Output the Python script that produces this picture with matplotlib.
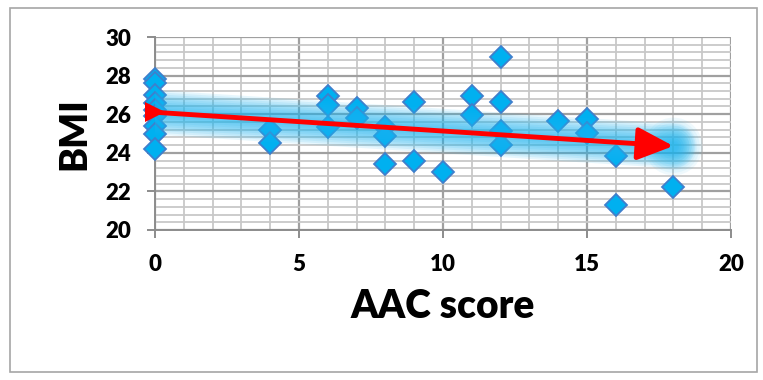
import numpy as np
import matplotlib.pyplot as plt
from matplotlib.patches import Rectangle
from matplotlib.ticker import MultipleLocator

# AAC score vs BMI
aac = [0, 0, 0, 0, 0, 0, 0, 0, 0,
       4, 4,
       6, 6, 6,
       7, 7,
       8, 8, 8,
       9, 9,
       10,
       11, 11,
       12, 12, 12, 12,
       14,
       15, 15,
       16, 16,
       18]
bmi = [27.8, 27.6, 27.0, 26.6, 26.2, 25.9, 25.4, 25.0, 24.2,
       25.2, 24.5,
       26.95, 26.5, 25.35,
       26.3, 25.8,
       25.35, 24.85, 23.4,
       26.65, 23.55,
       23.0,
       26.95, 25.95,
       28.95, 26.65, 25.15, 24.4,
       25.65,
       25.75, 25.05,
       23.85, 21.3,
       22.25]

# hand-drawn trend arrow (start, end)
trend_x = [0, 18]
trend_y = [26.1, 24.35]

x_ticks = [0, 5, 10, 15, 20]
y_ticks = [20, 22, 24, 26, 28, 30]

FONT = 'Lato'

fig = plt.figure(figsize=(7.63, 3.80), dpi=100)
ax = fig.add_axes([155 / 763, 1 - 230 / 380, (731 - 155) / 763, (230 - 37) / 380])

# outer chart border
fig.patches.append(Rectangle((10 / 763, 8 / 380), 747 / 763, 364 / 380,
                             transform=fig.transFigure, fill=False,
                             edgecolor='#a6a6a6', linewidth=1.2))

ax.set_xlim(0, 20)
ax.set_ylim(20, 30)
ax.xaxis.set_minor_locator(MultipleLocator(1))
ax.yaxis.set_minor_locator(MultipleLocator(0.4))
ax.set_xticks(x_ticks)
ax.set_yticks(y_ticks)

ax.grid(which='major', color='#a0a0a0', linewidth=1.6)
ax.grid(which='minor', color='#c8c8c8', linewidth=1.3)
ax.set_axisbelow(True)

for s in ['top', 'right']:
    ax.spines[s].set_visible(False)
for s in ['left', 'bottom']:
    ax.spines[s].set_color('#8c8c8c')
    ax.spines[s].set_linewidth(1.4)

ax.tick_params(which='major', length=6, width=1.4, color='#8c8c8c', pad=11)
ax.tick_params(which='minor', length=0)
for lab in ax.get_xticklabels() + ax.get_yticklabels():
    lab.set_fontfamily(FONT)
    lab.set_fontweight('heavy')
    lab.set_fontsize(16)

ax.set_xlabel('AAC score', fontfamily=FONT, fontweight='heavy', fontsize=28, labelpad=10)
ax.set_ylabel('BMI', fontfamily=FONT, fontweight='heavy', fontsize=27, labelpad=10)

# data points
ax.plot(aac, bmi, linestyle='none', marker='D', markersize=11,
        markerfacecolor='#00b0f0', markeredgecolor='#3f7fcc', markeredgewidth=1.3,
        zorder=3, clip_on=False)

# soft blue glow behind the arrow
for w in np.linspace(32, 6, 10):
    ax.plot(trend_x, trend_y, color='#1fb6f0', linewidth=w, alpha=0.11,
            solid_capstyle='round', zorder=4)
    ax.plot([trend_x[1]], [trend_y[1]], marker='o', markersize=w * 1.3,
            color='#1fb6f0', alpha=0.07, markeredgewidth=0, zorder=4)

# red arrow
ax.annotate('', xy=(trend_x[1], trend_y[1]), xytext=(trend_x[0], trend_y[0]),
            arrowprops=dict(arrowstyle='-|>,head_length=1.1,head_width=0.5',
                            color='#ff0000', linewidth=3.5, mutation_scale=20,
                            shrinkA=0, shrinkB=0),
            zorder=5)
ax.plot([trend_x[0]], [trend_y[0]], marker='>', markersize=14, color='#ff0000',
        markeredgewidth=0, zorder=5, clip_on=False)

fig.savefig('out.png', dpi=100)
